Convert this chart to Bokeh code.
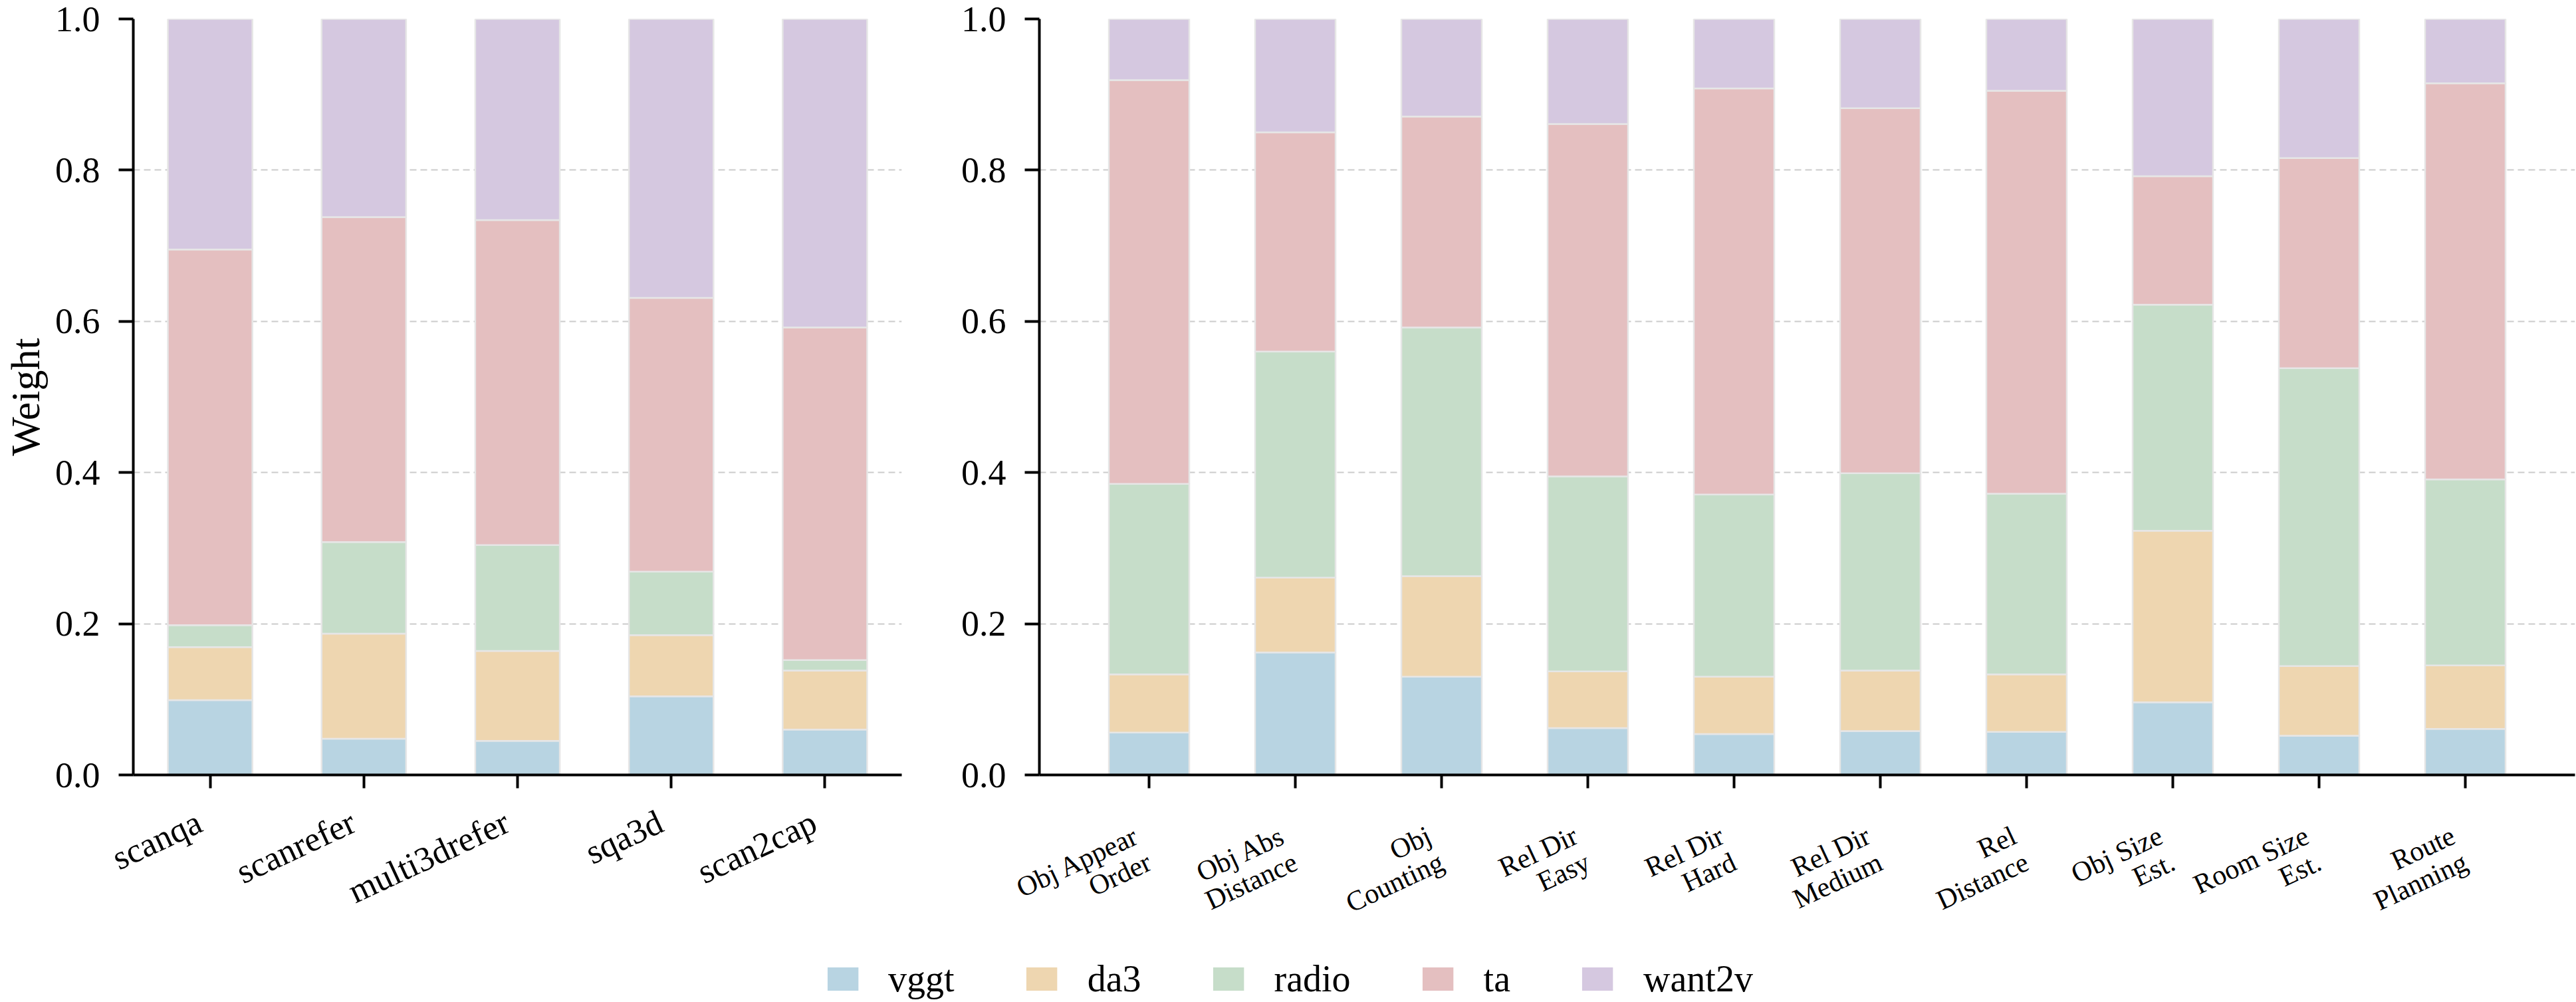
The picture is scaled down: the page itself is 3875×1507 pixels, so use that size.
from math import cos, radians, sin

from bokeh.core.properties import value
from bokeh.embed import file_html
from bokeh.layouts import column, row
from bokeh.models import (ColumnDataSource, FactorRange, FixedTicker, Legend,
                          LegendItem, PrintfTickFormatter, Range1d)
from bokeh.plotting import figure
from bokeh.resources import INLINE

# ---- data -----------------------------------------------------------------
series = ["vggt", "da3", "radio", "ta", "want2v"]
colors = ["#b8d4e2", "#eed6b0", "#c6ddc9", "#e4bfc0", "#d5c8e0"]

# 3D-language tasks
left_tasks = ["scanqa", "scanrefer", "multi3drefer", "sqa3d", "scan2cap"]
left_vggt = [0.099, 0.048, 0.045, 0.104, 0.060]
left_da3 = [0.070, 0.139, 0.119, 0.081, 0.078]
left_radio = [0.029, 0.121, 0.140, 0.084, 0.014]
left_ta = [0.497, 0.430, 0.430, 0.362, 0.440]
left_want2v = [0.305, 0.262, 0.266, 0.369, 0.408]

# spatial-reasoning tasks
right_tasks = ["Obj Appear Order", "Obj Abs Distance", "Obj Counting",
               "Rel Dir Easy", "Rel Dir Hard", "Rel Dir Medium",
               "Rel Distance", "Obj Size Est.", "Room Size Est.",
               "Route Planning"]
right_tick_lines = [["Obj Appear", "Order"], ["Obj Abs", "Distance"],
                    ["Obj", "Counting"], ["Rel Dir", "Easy"],
                    ["Rel Dir", "Hard"], ["Rel Dir", "Medium"],
                    ["Rel", "Distance"], ["Obj Size", "Est."],
                    ["Room Size", "Est."], ["Route", "Planning"]]
right_vggt = [0.056, 0.162, 0.130, 0.062, 0.054, 0.058, 0.057, 0.096, 0.052, 0.061]
right_da3 = [0.077, 0.099, 0.133, 0.075, 0.076, 0.080, 0.076, 0.227, 0.092, 0.084]
right_radio = [0.252, 0.299, 0.329, 0.258, 0.241, 0.261, 0.239, 0.299, 0.394, 0.246]
right_ta = [0.534, 0.290, 0.279, 0.466, 0.537, 0.483, 0.533, 0.170, 0.278, 0.524]
right_want2v = [0.081, 0.150, 0.129, 0.139, 0.092, 0.118, 0.095, 0.208, 0.184, 0.085]

y_ticks = [0.0, 0.2, 0.4, 0.6, 0.8, 1.0]

# ---- geometry / styling ---------------------------------------------------
FONT = "Liberation Serif"
EDGE = "#e6e6e6"
BAR_W = 0.55
TOP = 28
FRAME_H = 1137
BOTTOM = 30
PLOT_H = TOP + FRAME_H + BOTTOM      # height of the bar panels
STRIP_H = 230                        # rotated category labels
LEGEND_H = 1507 - PLOT_H - STRIP_H
ROT = radians(25)

L_W, L_FRAME, L_BL = 1400, 1156, 198
R_W, R_FRAME, R_BL = 2475, 2310, 161
R_PAD = 0.05                         # side margins of the right panel


def style(p, show_ylabel):
    p.outline_line_color = None
    p.xgrid.grid_line_color = None
    p.ygrid.grid_line_color = "#cccccc"
    p.ygrid.grid_line_width = 2
    p.ygrid.grid_line_dash = "10 6"
    p.ygrid.ticker = FixedTicker(ticks=y_ticks)

    for ax in (p.xaxis[0], p.yaxis[0]):
        ax.axis_line_color = "black"
        ax.axis_line_width = 4
        ax.major_tick_line_color = "black"
        ax.major_tick_line_width = 4
        ax.major_tick_in = 0
        ax.minor_tick_line_color = None
        ax.major_label_text_font = FONT
        ax.major_label_text_color = "black"

    y = p.yaxis[0]
    y.ticker = FixedTicker(ticks=y_ticks)
    y.formatter = PrintfTickFormatter(format="%.1f")
    y.major_tick_out = 22
    y.major_label_standoff = 28
    y.major_label_text_font_size = "54px"
    if show_ylabel:
        y.axis_label = "Weight"
        y.axis_label_text_font = FONT
        y.axis_label_text_font_size = "62px"
        y.axis_label_text_font_style = "normal"
        y.axis_label_text_color = "black"
        y.axis_label_standoff = 8

    x = p.xaxis[0]
    x.major_tick_out = 20
    x.major_label_standoff = 0
    # category names are drawn in the strip underneath (rotated, multi-line)
    x.major_label_text_color = None
    x.major_label_text_font_size = "1px"


def stacked(tasks, cols, padding, frame_w, border_l, border_r, ylabel):
    data = {"task": tasks}
    for name, vals in zip(series, cols):
        data[name] = vals
    src = ColumnDataSource(data)
    p = figure(x_range=FactorRange(*tasks, range_padding=padding,
                                   range_padding_units="percent"),
               y_range=Range1d(0, 1),
               frame_width=frame_w, frame_height=FRAME_H,
               min_border_left=border_l, min_border_right=border_r,
               min_border_top=TOP, min_border_bottom=BOTTOM,
               toolbar_location=None, output_backend="svg")
    p.vbar_stack(series, x="task", width=BAR_W, source=src,
                 fill_color=colors, line_color=EDGE, line_width=2.5)
    style(p, ylabel)
    return p


def label_strip(width, x0, px_per_cat, lines_per_cat, font_px,
                dx, dy, line_h):
    """Category labels under the axis, lined up with the bar panel above.

    x0 is the category coordinate at the strip's left edge; dx/dy place the
    top-right corner of the first line relative to the tick (pixels below
    the axis line); following lines are stacked along the rotated frame.
    """
    q = figure(width=width, height=STRIP_H,
               x_range=Range1d(x0, x0 + width / px_per_cat),
               y_range=Range1d(-STRIP_H, 0), min_border=0,
               x_axis_location=None, y_axis_location=None,
               toolbar_location=None, output_backend="svg")
    q.grid.grid_line_color = None
    q.outline_line_color = None
    s, c = sin(ROT), cos(ROT)
    xs, ys, ts = [], [], []
    for i, lines in enumerate(lines_per_cat):
        for k, txt in enumerate(lines):
            xs.append(i + 0.5 + (dx + k * line_h * s) / px_per_cat)
            ys.append(-(dy - BOTTOM + k * line_h * c))
            ts.append(txt)
    q.text(x=xs, y=ys, text=ts, angle=ROT,
           text_align="right", text_baseline="top",
           text_font=value(FONT), text_font_size=value(font_px),
           text_color="black")
    return q


p1 = stacked(left_tasks,
             [left_vggt, left_da3, left_radio, left_ta, left_want2v],
             0.0, L_FRAME, L_BL, L_W - L_BL - L_FRAME, True)
p2 = stacked(right_tasks,
             [right_vggt, right_da3, right_radio, right_ta, right_want2v],
             R_PAD, R_FRAME, R_BL, R_W - R_BL - R_FRAME, False)

l_ppc = L_FRAME / len(left_tasks)
r_span = len(right_tasks) * (1 + R_PAD)
r_ppc = R_FRAME / r_span
q1 = label_strip(L_W, -L_BL / l_ppc, l_ppc, [[t] for t in left_tasks],
                 "52px", -26, 42, 0)
q2 = label_strip(R_W, -len(right_tasks) * R_PAD / 2 - R_BL / r_ppc, r_ppc,
                 right_tick_lines, "42px", -26, 68, 44)

# shared legend strip underneath both panels
pl = figure(width=L_W + R_W, height=LEGEND_H, x_range=Range1d(0, 1),
            y_range=Range1d(0, 1), min_border=0,
            x_axis_location=None, y_axis_location=None,
            toolbar_location=None, output_backend="svg")
pl.grid.grid_line_color = None
pl.outline_line_color = None
items = []
for name, c in zip(series, colors):
    r = pl.vbar(x=[-5], top=[0], width=0.1, fill_color=c, line_color=None)
    items.append(LegendItem(label=name, renderers=[r]))
legend = Legend(items=items, orientation="horizontal",
                location="bottom_center",
                glyph_width=58, glyph_height=44, label_standoff=40,
                spacing=102, padding=0, margin=3,
                border_line_color=None, background_fill_alpha=0,
                label_text_font=FONT, label_text_font_size="56px",
                label_text_color="black")
pl.add_layout(legend, "center")

layout = column(row(p1, p2), row(q1, q2), pl)
open("out.html", "w").write(file_html(layout, INLINE))
